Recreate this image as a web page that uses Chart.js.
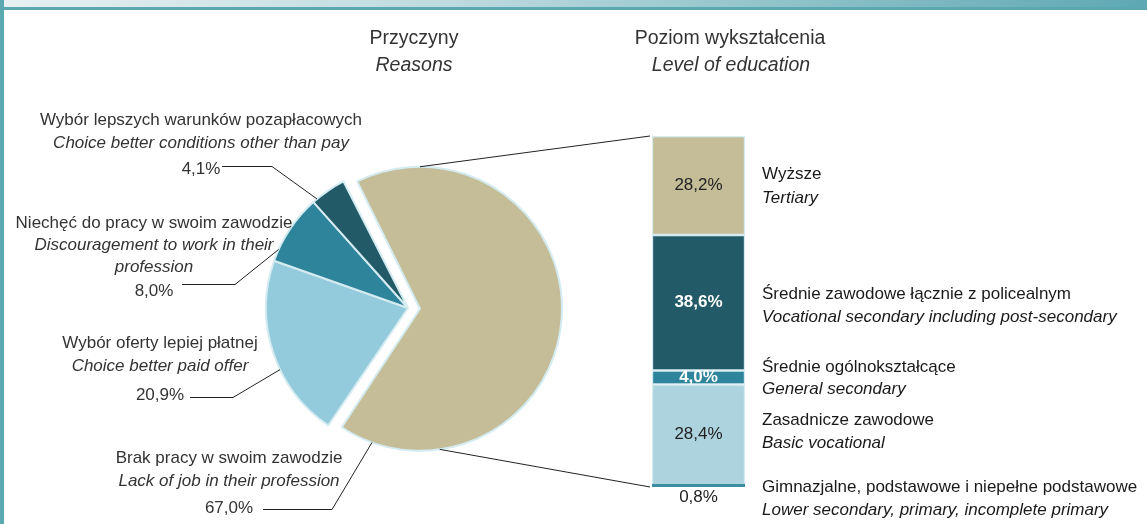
<!DOCTYPE html>
<html>
<head>
<meta charset="utf-8">
<script src="https://cdn.jsdelivr.net/npm/chart.js@4/dist/chart.umd.min.js"></script>
<style>
  html, body { margin: 0; padding: 0; background: #fff; }
  #frame { position: relative; width: 1147px; height: 524px; overflow: hidden; background: #fff; }
  #band { position: absolute; left: 0; top: 0; width: 1147px; height: 7px;
          background: linear-gradient(100deg, #e8f0f3 0%, #bcdadf 40%, #5ea8b3 100%);
          border-bottom: 3px solid #5aa8b0; }
  #leftBorder { position: absolute; left: 0; top: 0; width: 4px; height: 524px; background: #5aa8b0; }
  canvas { position: absolute; left: 0; top: 0; }
</style>
</head>
<body>
<div id="frame">
  <div id="band"></div>
  <div id="leftBorder"></div>
  <canvas id="pieChart" width="1147" height="524"></canvas>
  <canvas id="barChart" width="1147" height="524"></canvas>
</div>
<script>
// Przyczyny / Reasons (pie)
const reasonLabels = ['Brak pracy w swoim zawodzie', 'Wybór oferty lepiej płatnej', 'Niechęć do pracy w swoim zawodzie', 'Wybór lepszych warunków pozapłacowych'];
const reasonLabelsEn = [['Lack of job in their profession'], ['Choice better paid offer'], ['Discouragement to work in their', 'profession'], ['Choice better conditions other than pay']];
const reasonValues = [67.0, 20.9, 8.0, 4.1];
const reasonColors = ['#c4bd98', '#93cbdc', '#2e849a', '#225a68'];

// Poziom wykształcenia / Level of education (stacked bar, bottom to top)
const eduLabels = ['Gimnazjalne, podstawowe i niepełne podstawowe', 'Zasadnicze zawodowe', 'Średnie ogólnokształcące', 'Średnie zawodowe łącznie z policealnym', 'Wyższe'];
const eduLabelsEn = ['Lower secondary, primary, incomplete primary', 'Basic vocational', 'General secondary', 'Vocational secondary including post-secondary', 'Tertiary'];
const eduValues = [0.8, 28.4, 4.0, 38.6, 28.2];
const eduColors = ['#3a8fa3', '#add3df', '#2e849a', '#225a68', '#c4bd98'];

const FONT = '"Liberation Sans", Arial, sans-serif';
const pct = v => v.toFixed(1).replace('.', ',') + '%';
const beigeShift = 12;

function slicePoint(chart, i, frac) {
    const arc = chart.getDatasetMeta(0).data[i];
    let cx = arc.x, cy = arc.y;
    if (i === 0) {
        const mid = (arc.startAngle + arc.endAngle) / 2;
        cx += Math.cos(mid) * beigeShift;
        cy += Math.sin(mid) * beigeShift;
    }
    const r = i === 0 ? arc.outerRadius + beigeShift : arc.outerRadius;
    const a = frac === null ? null : arc.startAngle + frac * (arc.endAngle - arc.startAngle);
    return { cx, cy, r, x: cx + Math.cos(a) * r, y: cy + Math.sin(a) * r };
}

// label blocks: centre x, line ys, percent y, leader line (start x, elbow x, y), position along slice
const reasonLayout = [
    { cx: 229, ys: [458, 481], py: 508, lx: 263, ex: 332, ly: 509, frac: 0.94 },
    { cx: 160, ys: [343, 366], py: 395, lx: 190, ex: 233, ly: 397, frac: 0.40 },
    { cx: 154, ys: [223, 245, 267], py: 291, lx: 182, ex: 235, ly: 284, frac: 0.17 },
    { cx: 201, ys: [120, 143], py: 169, lx: 222, ex: 272, ly: 166, frac: 0.13 }
];

const pieLabels = {
    id: 'pieLabels',
    afterDatasetUpdate(chart, args) {
        // keep the pulled-out slice the same size as the others
        args.meta.data[0].outerRadius -= beigeShift;
    },
    afterDraw(chart) {
        const ctx = chart.ctx;
        ctx.save();
        ctx.textAlign = 'center';
        ctx.textBaseline = 'middle';
        ctx.fillStyle = '#333';
        ctx.font = '19.5px ' + FONT;
        ctx.fillText('Przyczyny', 414, 39);
        ctx.font = 'italic 19.5px ' + FONT;
        ctx.fillText('Reasons', 414, 66);

        reasonLayout.forEach((L, i) => {
            const lines = [reasonLabels[i]].concat(reasonLabelsEn[i]);
            lines.forEach((t, k) => {
                ctx.font = (k === 0 ? '' : 'italic ') + '17px ' + FONT;
                ctx.fillStyle = '#333';
                ctx.fillText(t, L.cx, L.ys[k]);
            });
            ctx.font = '17px ' + FONT;
            ctx.fillText(pct(reasonValues[i]), L.cx, L.py);
            const p = slicePoint(chart, i, L.frac);
            ctx.strokeStyle = '#222';
            ctx.lineWidth = 1;
            ctx.beginPath();
            ctx.moveTo(L.lx, L.ly + 0.5);
            ctx.lineTo(L.ex, L.ly + 0.5);
            ctx.lineTo(p.x, p.y);
            ctx.stroke();
        });
        ctx.restore();
    }
};

const pieChart = new Chart(document.getElementById('pieChart'), {
    type: 'pie',
    data: {
        labels: reasonLabels,
        datasets: [{
            data: reasonValues,
            backgroundColor: reasonColors,
            borderColor: '#d4ebf1',
            borderWidth: 2,
            offset: [beigeShift * 4, 0, 0, 0],
            radius: 142
        }]
    },
    options: {
        responsive: false,
        animation: false,
        rotation: -27,
        layout: { padding: { left: 258, right: 589, top: 158, bottom: 66 } },
        plugins: { legend: { display: false }, tooltip: { enabled: false } }
    },
    plugins: [pieLabels]
});

const eduTextY = [[487, 510], [420, 443], [367, 389], [294, 317], [174, 198]];

const barLabels = {
    id: 'barLabels',
    afterDraw(chart) {
        const ctx = chart.ctx;
        ctx.save();
        ctx.textBaseline = 'middle';

        // titles
        ctx.textAlign = 'center';
        ctx.fillStyle = '#333';
        ctx.font = '19.5px ' + FONT;
        ctx.fillText('Poziom wykształcenia', 730, 39);
        ctx.font = 'italic 19.5px ' + FONT;
        ctx.fillText('Level of education', 731, 66);

        // values in the bar
        let topEl = null, bottomEl = null;
        eduValues.forEach((v, i) => {
            const el = chart.getDatasetMeta(i).data[0];
            if (i === 0) bottomEl = el;
            topEl = el;
            let y = (el.y + el.base) / 2;
            const dark = i === 2 || i === 3;
            ctx.fillStyle = dark ? '#fff' : '#222';
            ctx.font = (dark ? 'bold ' : '') + '17px ' + FONT;
            if (i === 0) y = el.base + 10;
            ctx.fillText(pct(v), el.x, y);
        });

        // category names on the right
        ctx.textAlign = 'left';
        eduLabels.forEach((t, i) => {
            ctx.fillStyle = '#1a1a1a';
            ctx.font = '17px ' + FONT;
            ctx.fillText(t, 762, eduTextY[i][0]);
            ctx.font = 'italic 17px ' + FONT;
            ctx.fillText(eduLabelsEn[i], 762, eduTextY[i][1]);
        });

        // connector lines from the pulled-out slice to the bar
        const s = slicePoint(pieChart, 0, null);
        const left = topEl.x - topEl.width / 2 - 2;
        const bottomAngle = 82 * Math.PI / 180;
        ctx.strokeStyle = '#222';
        ctx.lineWidth = 1;
        ctx.beginPath();
        ctx.moveTo(s.cx, s.cy - s.r);
        ctx.lineTo(left, topEl.y);
        ctx.moveTo(s.cx + Math.cos(bottomAngle) * s.r, s.cy + Math.sin(bottomAngle) * s.r);
        ctx.lineTo(left, bottomEl.base);
        ctx.stroke();
        ctx.restore();
    }
};

const barChart = new Chart(document.getElementById('barChart'), {
    type: 'bar',
    data: {
        labels: [''],
        datasets: eduValues.map((v, i) => ({
            label: eduLabels[i],
            data: [v],
            backgroundColor: eduColors[i],
            borderColor: '#d4ebf1',
            borderWidth: i === 0 ? 0 : 1.5,
            borderSkipped: false,
            barPercentage: 1,
            categoryPercentage: 1
        }))
    },
    options: {
        responsive: false,
        animation: false,
        layout: { padding: { left: 652, right: 402, top: 136, bottom: 37 } },
        scales: {
            x: { stacked: true, display: false },
            y: { stacked: true, display: false, min: 0, max: 100 }
        },
        plugins: { legend: { display: false }, tooltip: { enabled: false } }
    },
    plugins: [barLabels]
});
</script>
</body>
</html>
